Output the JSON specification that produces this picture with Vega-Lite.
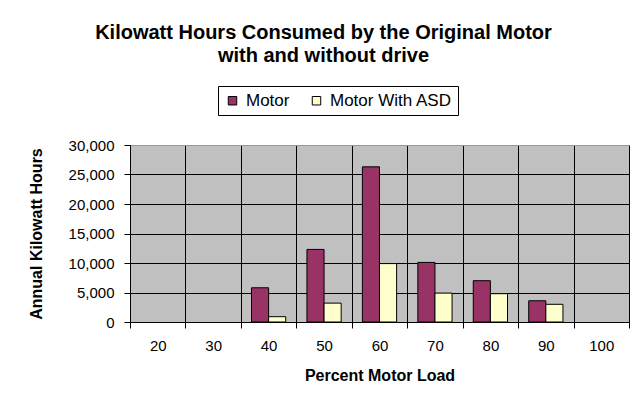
{
  "$schema": "https://vega.github.io/schema/vega-lite/v6.json",
  "autosize": "none",
  "width": 499,
  "height": 177,
  "padding": {"left": 130, "top": 145, "right": 7, "bottom": 80},
  "background": "white",
  "title": {
    "text": ["Kilowatt Hours Consumed by the Original Motor", "with and without drive"],
    "font": "Liberation Sans",
    "fontSize": 20,
    "fontWeight": "bold",
    "color": "black",
    "anchor": "middle",
    "frame": "group",
    "dx": -56,
    "lineHeight": 23,
    "offset": 20
  },
  "data": {
    "values": [
      {"load": 40, "series": "Motor", "kwh": 5800},
      {"load": 40, "series": "Motor With ASD", "kwh": 900},
      {"load": 50, "series": "Motor", "kwh": 12300},
      {"load": 50, "series": "Motor With ASD", "kwh": 3200},
      {"load": 60, "series": "Motor", "kwh": 26300},
      {"load": 60, "series": "Motor With ASD", "kwh": 9900},
      {"load": 70, "series": "Motor", "kwh": 10100},
      {"load": 70, "series": "Motor With ASD", "kwh": 4900},
      {"load": 80, "series": "Motor", "kwh": 7000},
      {"load": 80, "series": "Motor With ASD", "kwh": 4800},
      {"load": 90, "series": "Motor", "kwh": 3600},
      {"load": 90, "series": "Motor With ASD", "kwh": 3000}
    ]
  },
  "mark": {"type": "bar", "stroke": "black", "strokeWidth": 1},
  "encoding": {
    "x": {
      "field": "load",
      "type": "ordinal",
      "scale": {"domain": [20, 30, 40, 50, 60, 70, 80, 90, 100], "paddingInner": 0, "paddingOuter": 0},
      "axis": {
        "title": "Percent Motor Load",
        "labelAngle": 0,
        "tickBand": "extent",
        "grid": true,
        "gridColor": "black",
        "gridOpacity": 1,
        "gridWidth": 1,
        "domainColor": "black",
        "tickColor": "black",
        "tickSize": 6,
        "labelPadding": 10,
        "labelFont": "Liberation Sans",
        "labelFontSize": 15,
        "labelColor": "black",
        "titleFont": "Liberation Sans",
        "titleFontSize": 16,
        "titleFontWeight": "bold",
        "titleColor": "black",
        "titlePadding": 14
      }
    },
    "xOffset": {
      "field": "series",
      "type": "nominal",
      "scale": {"paddingInner": 0, "paddingOuter": 0.62}
    },
    "y": {
      "field": "kwh",
      "type": "quantitative",
      "scale": {"domain": [0, 30000], "nice": false},
      "axis": {
        "title": "Annual Kilowatt Hours",
        "values": [0, 5000, 10000, 15000, 20000, 25000, 30000],
        "format": ",.0f",
        "grid": true,
        "gridColor": {"condition": {"test": "datum.value == 30000", "value": "#999999"}, "value": "black"},
        "gridOpacity": 1,
        "gridWidth": 1,
        "domainColor": "black",
        "tickColor": "black",
        "tickSize": 6,
        "labelPadding": 10,
        "labelFont": "Liberation Sans",
        "labelFontSize": 15,
        "labelColor": "black",
        "titleFont": "Liberation Sans",
        "titleFontSize": 16,
        "titleFontWeight": "bold",
        "titleColor": "black",
        "titlePadding": 24
      }
    },
    "fill": {
      "field": "series",
      "type": "nominal",
      "scale": {"domain": ["Motor", "Motor With ASD"], "range": ["#993366", "#FFFFCC"]},
      "legend": {
        "title": null,
        "orient": "none",
        "legendX": 88,
        "legendY": -59,
        "direction": "horizontal",
        "strokeColor": "black",
        "fillColor": "white",
        "padding": 6,
        "symbolType": "square",
        "symbolSize": 72,
        "symbolStrokeColor": "black",
        "symbolStrokeWidth": 1,
        "symbolOpacity": 1,
        "labelFont": "Liberation Sans",
        "labelFontSize": 17,
        "labelColor": "black",
        "labelOffset": 5,
        "columnPadding": 18
      }
    }
  },
  "config": {
    "view": {"fill": "#C0C0C0", "stroke": "#999999", "strokeWidth": 1}
  }
}
